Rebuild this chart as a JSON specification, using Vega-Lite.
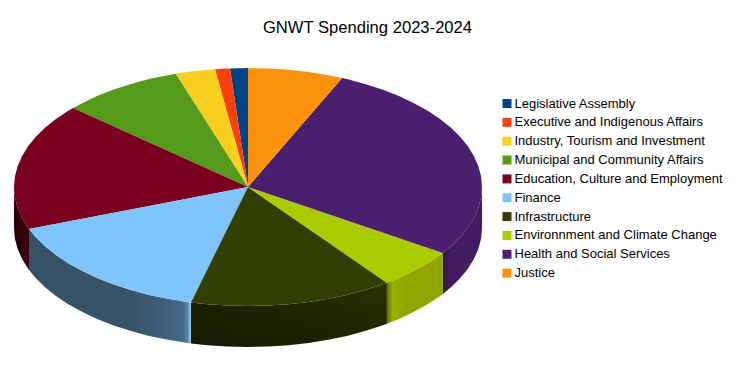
{"$schema":"https://vega.github.io/schema/vega-lite/v6.json","width":736,"height":377,"autosize":"none","padding":0,"background":"white","title":{"text":"GNWT Spending 2023-2024","anchor":"middle","frame":"group","offset":0,"dy":36.5,"dx":-0.5,"font":"Liberation Sans","fontSize":16.6,"fontWeight":"normal","color":"#000000"},"projection":{"type":"identity","reflectY":true,"scale":1,"translate":[248,187]},"config":{"view":{"stroke":null}},"layer":[
{"data":{"values":[{"type":"Feature","properties":{"department":"Health and Social Services"},"geometry":{"type":"Polygon","coordinates":[[[234,0],[233.1,-10.4],[230.4,-20.7],[226,-30.8],[219.9,-40.7],[212.1,-50.3],[202.7,-59.5],[194.9,-65.9],[194.9,-106.9],[202.7,-100.5],[212.1,-91.3],[219.9,-81.7],[226,-71.8],[230.4,-61.7],[233.1,-51.4],[234,-41],[234,0]]]}}]},"mark":{"type":"geoshape","stroke":null,"fill":{"gradient":"linear","x1":0,"y1":0,"x2":1,"y2":0,"stops":[{"offset":0,"color":"#341650"},{"offset":0.25,"color":"#421d62"},{"offset":1,"color":"#421d63"}]}}},
{"data":{"values":[{"type":"Feature","properties":{"department":"Environnment and Climate Change"},"geometry":{"type":"Polygon","coordinates":[[[194.9,-65.9],[191.7,-68.3],[179.3,-76.5],[165.5,-84.1],[150.4,-91.2],[138.9,-95.8],[138.9,-136.8],[150.4,-132.2],[165.5,-125.1],[179.3,-117.5],[191.7,-109.3],[194.9,-106.9],[194.9,-65.9]]]}}]},"mark":{"type":"geoshape","stroke":null,"fill":{"gradient":"linear","x1":0,"y1":0,"x2":1,"y2":0,"stops":[{"offset":0,"color":"#5f6e00"},{"offset":0.1,"color":"#98b000"},{"offset":0.3,"color":"#90a700"},{"offset":1,"color":"#8fa500"}]}}},
{"data":{"values":[{"type":"Feature","properties":{"department":"Infrastructure"},"geometry":{"type":"Polygon","coordinates":[[[138.9,-95.8],[134.2,-97.5],[117,-103.1],[98.9,-107.9],[80,-111.8],[60.6,-114.9],[40.6,-117.2],[20.4,-118.5],[0,-119],[-20.4,-118.5],[-40.6,-117.2],[-57,-115.4],[-57,-156.4],[-40.6,-158.2],[-20.4,-159.5],[0,-160],[20.4,-159.5],[40.6,-158.2],[60.6,-155.9],[80,-152.8],[98.9,-148.9],[117,-144.1],[134.2,-138.5],[138.9,-136.8],[138.9,-95.8]]]}}]},"mark":{"type":"geoshape","stroke":null,"fill":{"gradient":"linear","x1":0,"y1":1,"x2":1,"y2":0,"stops":[{"offset":0,"color":"#141a00"},{"offset":0.45,"color":"#1c2300"},{"offset":1,"color":"#2a3102"}]}}},
{"data":{"values":[{"type":"Feature","properties":{"department":"Finance"},"geometry":{"type":"Polygon","coordinates":[[[-57,-115.4],[-60.6,-114.9],[-80,-111.8],[-98.9,-107.9],[-117,-103.1],[-134.2,-97.5],[-150.4,-91.2],[-165.5,-84.1],[-179.3,-76.5],[-191.7,-68.3],[-202.7,-59.5],[-212.1,-50.3],[-219,-41.9],[-219,-82.9],[-212.1,-91.3],[-202.7,-100.5],[-191.7,-109.3],[-179.3,-117.5],[-165.5,-125.1],[-150.4,-132.2],[-134.2,-138.5],[-117,-144.1],[-98.9,-148.9],[-80,-152.8],[-60.6,-155.9],[-57,-156.4],[-57,-115.4]]]}}]},"mark":{"type":"geoshape","stroke":null,"fill":{"gradient":"linear","x1":0,"y1":0,"x2":1,"y2":0,"stops":[{"offset":0,"color":"#365166"},{"offset":0.62,"color":"#375368"},{"offset":0.75,"color":"#3c5a72"},{"offset":0.95,"color":"#46698a"},{"offset":0.98,"color":"#5c88aa"},{"offset":1,"color":"#a8d2f0"}]}}},
{"data":{"values":[{"type":"Feature","properties":{"department":"Education, Culture and Employment"},"geometry":{"type":"Polygon","coordinates":[[[-219,-41.9],[-219.9,-40.7],[-226,-30.8],[-230.4,-20.7],[-233.1,-10.4],[-234,0],[-234,-41],[-233.1,-51.4],[-230.4,-61.7],[-226,-71.8],[-219.9,-81.7],[-219,-82.9],[-219,-41.9]]]}}]},"mark":{"type":"geoshape","stroke":null,"fill":{"gradient":"linear","x1":0,"y1":0,"x2":1,"y2":0,"stops":[{"offset":0,"color":"#240009"},{"offset":1,"color":"#40000f"}]}}},
{"data":{"values":[
{"type":"Feature","properties":{"department":"Legislative Assembly"},"geometry":{"type":"Polygon","coordinates":[[[0,0],[-18,118.6],[0,119],[0,0]]]}},
{"type":"Feature","properties":{"department":"Executive and Indigenous Affairs"},"geometry":{"type":"Polygon","coordinates":[[[0,0],[-33,117.8],[-25,118.3],[-18,118.6],[0,0]]]}},
{"type":"Feature","properties":{"department":"Industry, Tourism and Investment"},"geometry":{"type":"Polygon","coordinates":[[[0,0],[-72.3,113.2],[-60.6,114.9],[-40.6,117.2],[-33,117.8],[0,0]]]}},
{"type":"Feature","properties":{"department":"Municipal and Community Affairs"},"geometry":{"type":"Polygon","coordinates":[[[0,0],[-175,79],[-165.5,84.1],[-150.4,91.2],[-134.2,97.5],[-117,103.1],[-98.9,107.9],[-80,111.8],[-72.3,113.2],[0,0]]]}},
{"type":"Feature","properties":{"department":"Education, Culture and Employment"},"geometry":{"type":"Polygon","coordinates":[[[0,0],[-219,-41.9],[-219.9,-40.7],[-226,-30.8],[-230.4,-20.7],[-233.1,-10.4],[-234,0],[-233.1,10.4],[-230.4,20.7],[-226,30.8],[-219.9,40.7],[-212.1,50.3],[-202.7,59.5],[-191.7,68.3],[-179.3,76.5],[-175,79],[0,0]]]}},
{"type":"Feature","properties":{"department":"Finance"},"geometry":{"type":"Polygon","coordinates":[[[0,0],[-57,-115.4],[-60.6,-114.9],[-80,-111.8],[-98.9,-107.9],[-117,-103.1],[-134.2,-97.5],[-150.4,-91.2],[-165.5,-84.1],[-179.3,-76.5],[-191.7,-68.3],[-202.7,-59.5],[-212.1,-50.3],[-219,-41.9],[0,0]]]}},
{"type":"Feature","properties":{"department":"Infrastructure"},"geometry":{"type":"Polygon","coordinates":[[[0,0],[138.9,-95.8],[134.2,-97.5],[117,-103.1],[98.9,-107.9],[80,-111.8],[60.6,-114.9],[40.6,-117.2],[20.4,-118.5],[0,-119],[-20.4,-118.5],[-40.6,-117.2],[-57,-115.4],[0,0]]]}},
{"type":"Feature","properties":{"department":"Environnment and Climate Change"},"geometry":{"type":"Polygon","coordinates":[[[0,0],[194.9,-65.9],[191.7,-68.3],[179.3,-76.5],[165.5,-84.1],[150.4,-91.2],[138.9,-95.8],[0,0]]]}},
{"type":"Feature","properties":{"department":"Health and Social Services"},"geometry":{"type":"Polygon","coordinates":[[[0,0],[94.1,109],[98.9,107.9],[117,103.1],[134.2,97.5],[150.4,91.2],[165.5,84.1],[179.3,76.5],[191.7,68.3],[202.7,59.5],[212.1,50.3],[219.9,40.7],[226,30.8],[230.4,20.7],[233.1,10.4],[234,0],[233.1,-10.4],[230.4,-20.7],[226,-30.8],[219.9,-40.7],[212.1,-50.3],[202.7,-59.5],[194.9,-65.9],[0,0]]]}},
{"type":"Feature","properties":{"department":"Justice"},"geometry":{"type":"Polygon","coordinates":[[[0,0],[0,119],[20.4,118.5],[40.6,117.2],[60.6,114.9],[80,111.8],[94.1,109],[0,0]]]}}
]},"mark":{"type":"geoshape","stroke":null},"encoding":{"color":{"field":"properties.department","type":"nominal","sort":null,"scale":{"domain":["Legislative Assembly","Executive and Indigenous Affairs","Industry, Tourism and Investment","Municipal and Community Affairs","Education, Culture and Employment","Finance","Infrastructure","Environnment and Climate Change","Health and Social Services","Justice"],"range":["#004382","#f9400e","#f9cf20","#569a1b","#7a0020","#7fc4fb","#313f03","#a9cb00","#4a1f6d","#fa920e"]},"legend":{"title":null,"orient":"none","legendX":500.5,"legendY":97,"symbolType":"square","symbolSize":81,"symbolStrokeWidth":0,"labelFont":"Liberation Sans","labelFontSize":13,"labelColor":"#000000","labelLimit":300,"labelOffset":1,"rowPadding":4.85,"padding":0}}}}
]}
